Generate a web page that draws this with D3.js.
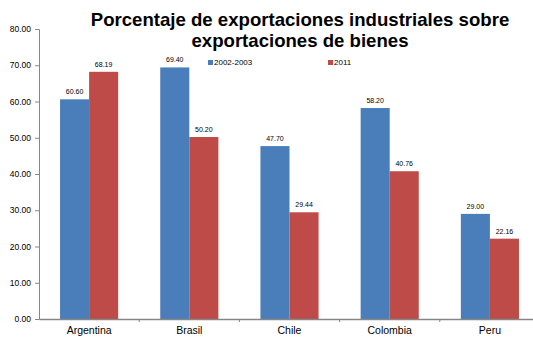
<!DOCTYPE html>
<html>
<head>
<meta charset="utf-8">
<script src="https://cdn.jsdelivr.net/npm/d3@7"></script>
<style>
  html, body { margin: 0; padding: 0; background: #fff; }
  svg { display: block; font-family: "Liberation Sans", Arial, sans-serif; }
</style>
</head>
<body>
<svg id="chart" width="533" height="339"></svg>
<script>
// Share of industrial exports in total goods exports (%)
const countries = ["Argentina", "Brasil", "Chile", "Colombia", "Peru"];
const series = ["2002-2003", "2011"];
const values2002 = [60.60, 69.40, 47.70, 58.20, 29.00];
const values2011 = [68.19, 50.20, 29.44, 40.76, 22.16];
const yTicks = [0, 10, 20, 30, 40, 50, 60, 70, 80];
const colors = ["#4a7ebb", "#be4b48"];

const svg = d3.select("#chart");
const margin = { left: 39, right: -7, top: 29, bottom: 20 };
const W = 533, H = 339;

const x = d3.scaleBand().domain(countries).range([margin.left, W - margin.right]).paddingInner(0).paddingOuter(0);
const xInner = d3.scaleBand().domain(series).range([0, x.bandwidth() * 0.58]);
const y = d3.scaleLinear().domain([0, 80]).range([H - margin.bottom, margin.top]);

// Title
const title = svg.append("text").attr("x", 300).attr("y", 26)
  .attr("text-anchor", "middle").attr("font-size", 18.6).attr("font-weight", "bold").attr("fill", "#000");
title.append("tspan").attr("x", 300).text("Porcentaje de exportaciones industriales sobre");
title.append("tspan").attr("x", 300).attr("dy", 21).text("exportaciones de bienes");

// Y axis
const yAxis = d3.axisLeft(y).tickValues(yTicks).tickSize(4).tickFormat(d3.format(".2f"));
const gy = svg.append("g").attr("transform", `translate(${margin.left},0)`).call(yAxis);
gy.select(".domain").attr("stroke", "#868686");
gy.selectAll(".tick line").attr("stroke", "#868686");
gy.selectAll(".tick text").attr("font-size", 8.5).attr("fill", "#000").attr("x", -8)
  .attr("font-family", "Liberation Sans, Arial, sans-serif");

// Bars
const groups = svg.append("g").selectAll("g").data(countries).join("g")
  .attr("transform", d => `translate(${x(d) + x.bandwidth() * 0.21},0)`);

const rows = countries.map((c, i) => [
  { s: series[0], v: values2002[i], c: colors[0] },
  { s: series[1], v: values2011[i], c: colors[1] }
]);

groups.each(function(d, i) {
  const g = d3.select(this);
  g.selectAll("rect").data(rows[i]).join("rect")
    .attr("x", r => xInner(r.s))
    .attr("y", r => y(r.v))
    .attr("width", xInner.bandwidth())
    .attr("height", r => y(0) - y(r.v))
    .attr("fill", r => r.c);
  g.selectAll("text").data(rows[i]).join("text")
    .attr("x", r => xInner(r.s) + xInner.bandwidth() / 2)
    .attr("y", r => y(r.v) - 5)
    .attr("text-anchor", "middle")
    .attr("font-size", 7)
    .attr("fill", "#000")
    .text(r => r.v.toFixed(2));
});

// X axis
const xAxis = d3.axisBottom(x).tickSize(0).tickSizeOuter(0);
const gx = svg.append("g").attr("transform", `translate(0,${y(0)})`).call(xAxis);
gx.select(".domain").attr("stroke", "#868686").attr("stroke-width", 1.5);
gx.selectAll(".tick text").attr("font-size", 10.5).attr("fill", "#000").attr("dy", "1.1em")
  .attr("font-family", "Liberation Sans, Arial, sans-serif");
// category separators
gx.selectAll("line.sep").data(countries.slice(1)).join("line")
  .attr("class", "sep")
  .attr("x1", d => x(d)).attr("x2", d => x(d))
  .attr("y1", 0).attr("y2", 3)
  .attr("stroke", "#868686");

// Legend
const legend = svg.append("g").selectAll("g").data(series).join("g")
  .attr("transform", (d, i) => `translate(${i === 0 ? 208 : 328},60)`);
legend.append("rect").attr("width", 5).attr("height", 5).attr("fill", (d, i) => colors[i]);
legend.append("text").attr("x", 6).attr("y", 5).attr("font-size", 8).attr("fill", "#000").text(d => d);
</script>
</body>
</html>
